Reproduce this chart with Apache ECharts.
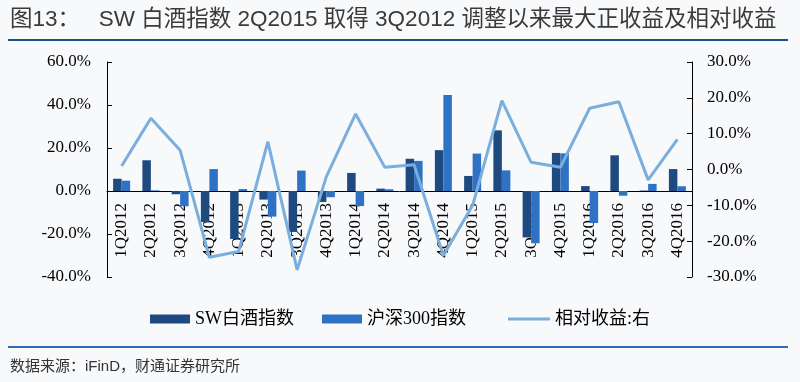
<!DOCTYPE html>
<html>
<head>
<meta charset="utf-8">
<script src="https://cdn.jsdelivr.net/npm/echarts@6/dist/echarts.min.js"></script>
<style>
html,body{margin:0;padding:0;background:#f8f9fb;}
#c{width:800px;height:382px;}
</style>
</head>
<body>
<div id="c"></div>
<script>
const categories = ['1Q2012','2Q2012','3Q2012','4Q2012','1Q2013','2Q2013','3Q2013','4Q2013','1Q2014','2Q2014','3Q2014','4Q2014','1Q2015','2Q2015','3Q2015','4Q2015','1Q2016','2Q2016','3Q2016','4Q2016'];
const swLiquor = [5.7, 14.3, -1.5, -14.4, -22.3, -4.0, -19.0, -5.1, 8.4, 1.1, 15.0, 19.0, 7.0, 28.2, -21.6, 17.7, 2.3, 16.6, 0.2, 10.2];
const hs300 = [4.8, 0.3, -7.1, 10.2, 0.9, -11.9, 9.5, -2.9, -7.0, 0.8, 14.0, 44.7, 17.4, 9.6, -24.3, 17.5, -14.9, -2.2, 3.3, 2.2];
const relative = [1.0, 14.3, 5.4, -24.5, -22.9, 7.8, -28.0, -2.0, 15.5, 0.6, 1.3, -24.0, -10.0, 19.2, 2.0, 0.6, 17.1, 18.9, -2.9, 8.4];
const leftTicks = {min: -40, max: 60, interval: 20};
const rightTicks = {min: -30, max: 30, interval: 10};

const serif = '"Liberation Serif", "Noto Sans CJK SC", serif';
const sans = '"Liberation Sans", "Noto Sans CJK SC", sans-serif';
const legendText = {fontFamily: serif, fontSize: 18, color: '#000'};
const chart = echarts.init(document.getElementById('c'));
chart.setOption({
  backgroundColor: '#f8f9fb',
  animation: false,
  graphic: [
    {type:'text', left: 10, top: 9, style:{text:'图13：   SW 白酒指数 2Q2015 取得 3Q2012 调整以来最大正收益及相对收益', font:'22.5px ' + sans, fill:'#3a3a3a'}},
    {type:'rect', shape:{x:8, y:39, width:780, height:2}, style:{fill:'#1f4e8c'}},
    {type:'rect', shape:{x:8, y:346, width:780, height:2}, style:{fill:'#2e6db4'}},
    {type:'text', left: 10, top: 359, style:{text:'数据来源：iFinD，财通证券研究所', font:'15px ' + sans, fill:'#333'}}
  ],
  legend: [
    {
      top: 310, left: 150, padding: 0,
      itemWidth: 40, itemHeight: 9, itemGap: 28,
      textStyle: legendText,
      data: [
        {name:'SW白酒指数', icon:'rect'},
        {name:'沪深300指数', icon:'rect'}
      ]
    },
    {
      top: 310, left: 508, padding: 0,
      itemWidth: 42, itemHeight: 3,
      textStyle: legendText,
      data: [{name:'相对收益:右', icon:'rect'}]
    }
  ],
  grid: {left: 107, right: 108, top: 62, bottom: 105},
  xAxis: {
    type: 'category', data: categories,
    axisLine: {onZero: true, onZeroAxisIndex: 0, lineStyle: {color: '#000', width: 1}},
    axisTick: {inside: true, length: 5, lineStyle: {color: '#000'}},
    axisLabel: {rotate: 90, margin: -74, fontFamily: serif, fontSize: 17, color: '#000', interval: 0}
  },
  yAxis: [
    {type:'value', min:leftTicks.min, max:leftTicks.max, interval:leftTicks.interval,
     axisLine:{show:true, lineStyle:{color:'#000'}}, axisTick:{show:true, inside:true, length:5, lineStyle:{color:'#000'}},
     splitLine:{show:false},
     axisLabel:{formatter: v => v.toFixed(1) + '%', fontFamily: serif, fontSize: 17, color:'#000', margin: 16}},
    {type:'value', min:rightTicks.min, max:rightTicks.max, interval:rightTicks.interval,
     axisLine:{show:true, lineStyle:{color:'#000'}}, axisTick:{show:true, inside:true, length:5, lineStyle:{color:'#000'}},
     splitLine:{show:false},
     axisLabel:{formatter: v => v.toFixed(1) + '%', fontFamily: serif, fontSize: 17, color:'#000', margin: 15}}
  ],
  series: [
    {name:'SW白酒指数', type:'bar', data: swLiquor, barWidth: 8.5, barGap: '0%', itemStyle:{color:'#1f4a80'}},
    {name:'沪深300指数', type:'bar', data: hs300, barWidth: 8.5, barGap: '0%', itemStyle:{color:'#2f72c4'}},
    {name:'相对收益:右', type:'line', yAxisIndex: 1, data: relative, showSymbol: false, symbol:'none',
     lineStyle:{color:'#7aaedc', width: 3}, itemStyle:{color:'#7aaedc'}}
  ]
});
</script>
</body>
</html>
